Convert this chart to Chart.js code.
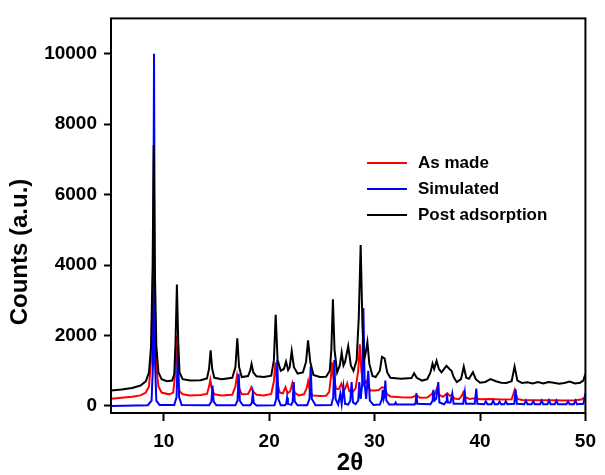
<!DOCTYPE html>
<html>
<head>
<meta charset="utf-8">
<script src="https://cdn.jsdelivr.net/npm/chart.js@4.4.0/dist/chart.umd.min.js"></script>
<style>
  body { margin: 0; background: #fff; }
  #wrap { width: 605px; height: 475px; }
</style>
</head>
<body>
<div id="wrap"><canvas id="xrdChart" width="605" height="475"></canvas></div>
<script>
// Tick labels
const xTicks = [10, 20, 30, 40, 50];
const yTicks = [0, 2000, 4000, 6000, 8000, 10000];

const seriesNames = ['As made', 'Simulated', 'Post adsorption'];
const seriesColors = ['#ff0000', '#0000ff', '#000000'];

// [2theta, counts]
const asMade = [
    [5, 205], [6, 230], [7, 260], [7.8, 300], [8.3, 380], [8.6, 550], [8.8, 1300], [8.95, 3200], [9.05, 5200], [9.15, 3000],
    [9.3, 1100], [9.5, 550], [9.8, 380], [10.5, 330], [10.9, 380], [11.05, 800], [11.2, 2000], [11.35, 800], [11.5, 420], [11.8, 330],
    [12.5, 300], [13.5, 310], [14.1, 340], [14.3, 550], [14.42, 740], [14.55, 500], [14.8, 330], [15.5, 300], [16.5, 320], [16.8, 550],
    [16.95, 860], [17.1, 550], [17.4, 330], [18.0, 340], [18.2, 450], [18.3, 530], [18.5, 400], [18.8, 320], [19.5, 300], [20.2, 340],
    [20.45, 700], [20.6, 1235], [20.75, 700], [21.0, 380], [21.3, 360], [21.55, 530], [21.75, 360], [22.0, 420], [22.2, 645], [22.4, 380],
    [22.8, 300], [23.3, 330], [23.55, 500], [23.7, 700], [23.85, 450], [24.1, 300], [24.8, 280], [25.4, 290], [25.7, 400], [25.85, 800],
    [25.97, 1235], [26.1, 800], [26.35, 490], [26.6, 480], [26.85, 630], [27.05, 440], [27.2, 480], [27.4, 645], [27.6, 420], [27.9, 390],
    [28.2, 500], [28.45, 1000], [28.6, 1750], [28.75, 1000], [28.95, 600], [29.2, 700], [29.35, 600], [29.6, 440], [30.0, 440], [30.4, 450],
    [30.7, 530], [30.9, 520], [31.2, 330], [31.5, 270], [32.5, 250], [33.5, 240], [34.0, 300], [34.3, 230], [35.0, 240], [35.4, 330],
    [35.55, 390], [35.7, 330], [35.9, 490], [36.1, 320], [36.5, 260], [36.9, 365], [37.1, 290], [37.3, 300], [37.6, 210], [38.0, 190],
    [38.3, 300], [38.42, 390], [38.6, 250], [39, 200], [39.5, 220], [40, 190], [41, 200], [42, 180], [43, 190], [43.3, 460],
    [43.55, 200], [44, 170], [45, 165], [46, 160], [47, 165], [48, 155], [49, 160], [49.6, 180], [50, 250]
];

const simulated = [
    [5, 0], [8.5, 20], [8.85, 150], [8.98, 1200], [9.08, 10000], [9.18, 1200], [9.3, 150], [9.6, 30], [11.0, 30], [11.22, 250],
    [11.34, 1700], [11.46, 250], [11.7, 30], [14.3, 20], [14.52, 120], [14.63, 580], [14.74, 120], [15, 20], [16.8, 20], [17.0, 150],
    [17.11, 910], [17.22, 150], [17.5, 20], [18.2, 20], [18.35, 80], [18.45, 350], [18.55, 80], [18.8, 10], [20.5, 20], [20.67, 200],
    [20.77, 1300], [20.87, 200], [21.1, 20], [21.5, 20], [21.62, 60], [21.7, 235], [21.78, 60], [22.1, 30], [22.23, 120], [22.33, 675],
    [22.43, 120], [22.7, 20], [23.6, 20], [23.83, 200], [23.94, 1120], [24.05, 200], [24.4, 20], [25.9, 30], [26.08, 250], [26.18, 1300],
    [26.3, 200], [26.55, 40], [26.75, 350], [26.88, 60], [27.05, 530], [27.2, 60], [27.5, 40], [27.7, 150], [27.82, 675], [27.95, 100],
    [28.2, 50], [28.45, 150], [28.55, 675], [28.68, 200], [28.82, 600], [28.94, 2780], [29.06, 600], [29.2, 200], [29.4, 1000], [29.55, 150],
    [29.9, 30], [30.5, 40], [30.7, 200], [30.78, 460], [30.86, 200], [30.95, 300], [31.02, 720], [31.12, 150], [31.4, 40], [31.9, 40],
    [32.0, 95], [32.1, 40], [33.8, 40], [33.9, 100], [33.97, 365], [34.05, 60], [35.3, 50], [35.5, 150], [35.58, 460], [35.68, 150],
    [35.85, 200], [36.04, 675], [36.15, 100], [36.6, 50], [36.78, 120], [36.85, 350], [36.95, 100], [37.2, 100], [37.37, 350], [37.5, 60],
    [38.4, 60], [38.56, 390], [38.66, 60], [39.5, 60], [39.65, 490], [39.75, 60], [40.4, 50], [40.55, 130], [40.7, 50], [41.1, 50],
    [41.25, 150], [41.4, 50], [41.7, 50], [41.85, 120], [42.0, 50], [42.3, 50], [42.45, 130], [42.6, 50], [43.25, 60], [43.37, 470],
    [43.5, 60], [44.2, 50], [44.35, 150], [44.5, 50], [44.9, 50], [45.05, 130], [45.2, 50], [45.7, 50], [45.85, 150], [46, 50],
    [46.4, 50], [46.55, 160], [46.7, 50], [47.1, 50], [47.25, 150], [47.4, 50], [48.2, 50], [48.35, 130], [48.5, 50], [48.9, 50],
    [49.05, 150], [49.2, 50], [49.8, 60], [50, 365]
];

const postAdsorption = [
    [5, 440], [6, 470], [7, 510], [7.8, 580], [8.3, 700], [8.6, 950], [8.8, 1700], [8.95, 4000], [9.05, 7400], [9.15, 4000],
    [9.3, 1700], [9.5, 950], [9.8, 760], [10.3, 700], [10.8, 720], [11.0, 900], [11.12, 1800], [11.25, 3450], [11.38, 1800], [11.5, 950],
    [11.8, 760], [12.5, 720], [13.5, 730], [14.1, 780], [14.3, 1050], [14.45, 1580], [14.6, 1050], [14.8, 800], [15.5, 760], [16.5, 800],
    [16.8, 1100], [16.98, 1920], [17.15, 1100], [17.4, 820], [18.0, 850], [18.2, 1000], [18.33, 1190], [18.5, 950], [18.8, 840], [19.5, 820],
    [20.2, 860], [20.45, 1300], [20.62, 2590], [20.8, 1300], [21.1, 1000], [21.4, 1050], [21.6, 1260], [21.8, 1020], [21.95, 1100], [22.14, 1560],
    [22.35, 1100], [22.7, 920], [23.2, 950], [23.5, 1250], [23.69, 1860], [23.9, 1250], [24.2, 880], [24.8, 820], [25.4, 830], [25.75, 1000],
    [25.9, 1600], [26.05, 3030], [26.2, 1600], [26.45, 950], [26.7, 1150], [26.88, 1515], [27.05, 1150], [27.2, 1250], [27.5, 1700], [27.75, 1150],
    [28.0, 1000], [28.3, 1300], [28.5, 2500], [28.68, 4570], [28.85, 2300], [29.0, 1300], [29.15, 1500], [29.32, 1815], [29.5, 1200], [29.8, 850],
    [30.1, 820], [30.5, 1000], [30.7, 1395], [30.95, 1350], [31.2, 950], [31.5, 800], [32.5, 770], [33.5, 790], [33.75, 925], [34.0, 800],
    [34.5, 720], [35.0, 760], [35.3, 950], [35.5, 1200], [35.65, 1050], [35.88, 1280], [36.1, 1050], [36.35, 955], [36.6, 1050], [36.82, 1140],
    [37.1, 1050], [37.3, 1000], [37.5, 820], [37.8, 675], [38.2, 760], [38.46, 1115], [38.7, 800], [38.95, 770], [39.33, 955], [39.6, 760],
    [40.0, 660], [40.5, 680], [41.0, 760], [41.5, 700], [42.0, 660], [42.5, 650], [43.0, 700], [43.28, 1120], [43.55, 720], [44, 650],
    [44.5, 670], [45, 640], [45.5, 680], [46, 640], [46.5, 680], [47, 660], [47.5, 630], [48, 650], [48.5, 690], [49, 640],
    [49.5, 660], [49.8, 720], [50, 910]
];

const FONT = '"Liberation Sans", Arial, sans-serif';
Chart.defaults.font.family = FONT;
Chart.defaults.color = '#000';

// Frame, legend and axis titles drawn on top
const framePlugin = {
    id: 'frame',
    afterDraw(chart) {
        const { ctx, chartArea: a } = chart;
        ctx.save();
        ctx.strokeStyle = '#000';
        ctx.lineWidth = 2;
        ctx.strokeRect(a.left, a.top, a.right - a.left, a.bottom - a.top);

        ctx.font = `bold 17px ${FONT}`;
        ctx.textBaseline = 'middle';
        ctx.fillStyle = '#000';
        seriesNames.forEach((name, i) => {
            const y = 163 + i * 26;
            ctx.strokeStyle = seriesColors[i];
            ctx.lineWidth = 2;
            ctx.beginPath();
            ctx.moveTo(367, y);
            ctx.lineTo(407, y);
            ctx.stroke();
            ctx.fillText(name, 418, y);
        });

        ctx.font = `bold 24px ${FONT}`;
        ctx.textAlign = 'center';
        ctx.fillText('2θ', 350, 463);
        ctx.translate(20, 252);
        ctx.rotate(-Math.PI / 2);
        ctx.fillText('Counts (a.u.)', 0, 0);
        ctx.restore();
    }
};

const toPoints = arr => arr.map(([x, y]) => ({ x, y }));
const makeSet = (i, data, order) => ({
    label: seriesNames[i],
    data: toPoints(data),
    borderColor: seriesColors[i],
    borderWidth: 2,
    pointRadius: 0,
    tension: 0,
    fill: false,
    order
});

const ctx = document.getElementById('xrdChart').getContext('2d');
new Chart(ctx, {
    type: 'line',
    data: {
        datasets: [
            makeSet(0, asMade, 3),
            makeSet(1, simulated, 2),
            makeSet(2, postAdsorption, 1)
        ]
    },
    options: {
        responsive: false,
        animation: false,
        layout: { padding: { top: 12, right: 11, left: 0, bottom: 0 } },
        plugins: {
            legend: { display: false },
            tooltip: { enabled: false }
        },
        scales: {
            x: {
                type: 'linear',
                min: 5,
                max: 50,
                afterBuildTicks: s => { s.ticks = xTicks.map(v => ({ value: v })); },
                afterFit: s => { s.height = 62; },
                grid: { drawOnChartArea: false, tickLength: 8, tickWidth: 2, tickColor: '#000' },
                border: { display: false },
                ticks: { font: { size: 19, weight: 'bold' }, padding: 9, maxRotation: 0, callback: v => String(v) }
            },
            y: {
                type: 'linear',
                min: -200,
                max: 11000,
                afterBuildTicks: s => { s.ticks = yTicks.map(v => ({ value: v })); },
                afterFit: s => { s.width = 111; },
                grid: { drawOnChartArea: false, tickLength: 7, tickWidth: 2, tickColor: '#000' },
                border: { display: false },
                ticks: { font: { size: 19, weight: 'bold' }, padding: 7, callback: v => String(v) }
            }
        }
    },
    plugins: [framePlugin]
});
</script>
</body>
</html>
